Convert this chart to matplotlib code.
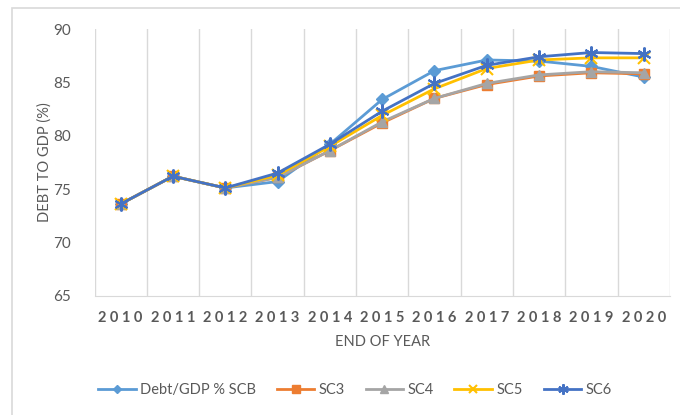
import numpy as np
import matplotlib.pyplot as plt
from matplotlib.patches import Rectangle

years = ['2010', '2011', '2012', '2013', '2014', '2015', '2016', '2017', '2018', '2019', '2020']
scb = [73.6, 76.2, 75.1, 75.7, 79.2, 83.4, 86.1, 87.1, 87.0, 86.5, 85.5]
sc3 = [73.6, 76.2, 75.1, 76.1, 78.6, 81.2, 83.5, 84.8, 85.6, 85.9, 85.8]
sc4 = [73.6, 76.2, 75.1, 76.1, 78.6, 81.3, 83.5, 84.9, 85.7, 86.0, 85.9]
sc5 = [73.6, 76.2, 75.1, 76.3, 79.0, 81.9, 84.4, 86.3, 87.1, 87.3, 87.3]
sc6 = [73.6, 76.2, 75.1, 76.5, 79.2, 82.3, 84.9, 86.6, 87.4, 87.8, 87.7]

plt.rcParams['font.family'] = ['Lato', 'DejaVu Sans']

fig = plt.figure(figsize=(6.8, 4.15), dpi=100)
ax = fig.add_axes([0.139, 0.2875, 0.846, 0.6425])

# Cadre extérieur du graphique
fig.patches.append(Rectangle((12 / 680, -0.05), 1.0, 1 - 8 / 415 + 0.05,
                             transform=fig.transFigure, fill=False,
                             edgecolor='#d9d9d9', linewidth=1.2))

x = np.arange(len(years))
ax.plot(x, scb, color='#5B9BD5', marker='D', markersize=6, lw=2, label='Debt/GDP % SCB')
ax.plot(x, sc3, color='#ED7D31', marker='s', markersize=7, lw=2, label='SC3')
ax.plot(x, sc4, color='#A5A5A5', marker='^', markersize=7, lw=2, label='SC4')
ax.plot(x, sc5, color='#FFC000', marker='x', markersize=8, mew=1.5, lw=2, label='SC5')
ax.plot(x, sc6, color='#4472C4', marker=(6, 2, 0), markersize=10, mew=1.5, lw=2, label='SC6')

ax.set_xlim(-0.5, len(years) - 0.5)
ax.set_ylim(65, 90)
ax.set_yticks(range(65, 91, 5))
ax.set_xticks(x)
ax.set_xticklabels([' '.join(y) for y in years], fontsize=10.5, color='#595959',
                   fontweight='bold')
ax.tick_params(axis='y', labelsize=11, colors='#595959', length=0, pad=17)
ax.tick_params(axis='x', length=0, pad=11)

# Grille verticale entre les catégories
for b in np.arange(-0.5, len(years), 1.0):
    ax.axvline(b, color='#d9d9d9', lw=1, zorder=0)
for s in ['top', 'right', 'left']:
    ax.spines[s].set_visible(False)
ax.spines['bottom'].set_color('#d9d9d9')

ax.set_xlabel('END OF YEAR', fontsize=10.5, color='#595959', labelpad=7)
ax.set_ylabel('DEBT TO GDP (%)', fontsize=10.5, color='#595959',
              ha='center', va='center')
ax.yaxis.set_label_coords(-49.5 / 575.3, 0.5)

leg = fig.legend(loc='center', bbox_to_anchor=(0.522, 0.06), ncol=5, frameon=False,
                 fontsize=10.5, labelcolor='#595959', handlelength=2.6, columnspacing=1.4,
                 handletextpad=0.3, markerscale=0.75)

plt.savefig('out.png', dpi=100)
